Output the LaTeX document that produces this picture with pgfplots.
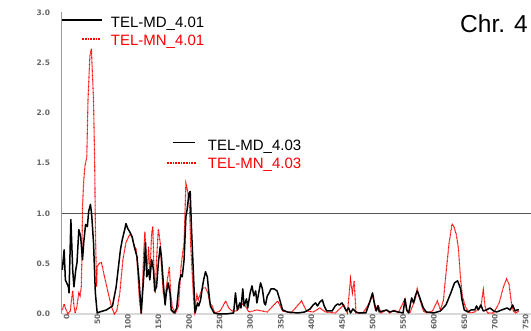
\documentclass[border=0pt]{standalone}
\usepackage{pgfplots}
\pgfplotsset{compat=1.18}
\usepackage{fontspec}
\setmainfont{Liberation Sans}
\newfontfamily\tickfont{DejaVu Sans}
\definecolor{axgray}{HTML}{999999}
\definecolor{ticktxt}{HTML}{666666}
\definecolor{refline}{HTML}{555555}
\definecolor{myred}{HTML}{FF0000}
\begin{document}
\begin{tikzpicture}
\begin{axis}[
  at={(0,0)}, anchor=south west,
  scale only axis, width=469.3pt, height=301.5pt,
  xmin=0, xmax=767, ymin=0, ymax=3.0,
  axis x line*=bottom, axis y line*=left,
  x axis line style={draw=black!15, line width=1.8pt},
  y axis line style={draw=axgray, line width=0.8pt},
  xtick={0,50,...,750}, ytick={0,0.5,...,3.0},
  major tick length=0pt,
  /pgf/number format/assume math mode=true,
  /pgf/number format/fixed, /pgf/number format/fixed zerofill,
  /pgf/number format/precision=1,
  yticklabel style={font=\tickfont\bfseries\fontsize{7.5}{8}\selectfont, text=ticktxt, inner sep=0pt, xshift=-11.5pt},
  xticklabel style={font=\tickfont\bfseries\fontsize{7.5}{8}\selectfont, text=ticktxt, inner sep=0pt, rotate=90, anchor=east, yshift=-5pt},
  xticklabel={\pgfmathprintnumber[fixed,precision=0]{\tick}},
  clip=false,
]
\addplot[refline, line width=1.5pt, forget plot] coordinates {(0,1.0) (767,1.0)};
\addplot[myred, line width=1.1pt, dash pattern=on 0.8pt off 0.5pt] coordinates {
(1,0.04)(4,0.10)(6,0.06)(10,0.00)(14,0.03)(16,0.14)(18,0.23)(20,0.08)(22,0.01)(25,0.08)(28,0.21)(30,0.18)(32,0.27)(33,0.54)(34,1.07)(36,1.33)(38,1.47)(41,1.56)(43,2.13)(46,2.56)(48.5,2.64)(52,2.13)(54,1.47)(55,0.87)(57,0.27)(58,0.47)(62,0.51)(65,0.51)(70,0.37)(76,0.21)(81,0.08)(86,0.00)(90,0.03)(95,0.21)(100,0.54)(105,0.71)(111,0.79)(115,0.77)(119,0.67)(122,0.64)(124,0.44)(127,0.14)(130,0.00)(132,0.27)(134,0.61)(136,0.82)(138,0.54)(139,0.37)(142,0.67)(144,0.37)(147,0.80)(149,0.87)(151,0.37)(153,0.21)(155,0.54)(158,0.85)(161,0.71)(163,0.47)(166,0.21)(169,0.14)(171,0.27)(176,0.47)(178,0.21)(181,0.06)(186,0.01)(191,0.08)(195,0.47)(197,0.57)(200,0.71)(203,1.30)(205,1.25)(207,1.17)(209,1.04)(211,0.67)(215,0.21)(217,0.03)(221,0.19)(223,0.14)(227,0.21)(231,0.26)(235,0.26)(239,0.21)(242,0.11)(246,0.08)(250,0.01)(259,0.03)(268,0.13)(273,0.06)(278,0.03)(286,0.03)(297,0.11)(306,0.02)(319,0.04)(336,0.02)(353,0.13)(361,0.03)(375,0.01)(392,0.13)(400,0.03)(411,0.02)(422,0.06)(431,0.02)(447,0.01)(461,0.09)(467,0.01)(472,0.35)(475,0.21)(478,0.33)(481,0.01)(492,0.01)(500,0.08)(508,0.18)(513,0.03)(517,0.09)(522,0.01)(531,0.04)(536,0.01)(544,0.04)(550,0.01)(561,0.15)(564,0.03)(569,0.01)(578,0.15)(581,0.25)(585,0.15)(591,0.03)(597,0.01)(606,0.03)(614,0.13)(619,0.04)(624,0.14)(627,0.34)(633,0.70)(638,0.90)(641,0.87)(645,0.79)(648,0.67)(649,0.60)(652,0.34)(655,0.17)(660,0.07)(666,0.01)(675,0.02)(685,0.07)(689,0.24)(692,0.07)(696,0.01)(706,0.01)(715,0.11)(722,0.27)(727,0.35)(731,0.30)(735,0.11)(738,0.03)(742,0.01)(747,0.03)
};
\addplot[black, line width=1.5pt, line join=round] coordinates {
(1,0.44)(4,0.64)(6,0.34)(11,0.27)(12,0.21)(15,0.94)(18,0.44)(20,0.27)(23,0.44)(25,0.51)(28,0.84)(31,0.77)(34,0.54)(36,0.71)(39,0.89)(42,0.87)(44,1.02)(47,1.09)(49,0.99)(52,0.71)(55,0.21)(58,0.01)(62,0.02)(73,0.04)(83,0.08)(89,0.27)(96,0.64)(99,0.74)(103,0.84)(105,0.90)(108,0.85)(111,0.82)(115,0.77)(119,0.66)(123,0.57)(126,0.37)(130,0.01)(134,0.37)(137,0.71)(139,0.37)(142,0.44)(144,0.34)(147,0.54)(150,0.44)(152,0.23)(155,0.27)(158,0.51)(161,0.67)(163,0.57)(166,0.31)(169,0.09)(171,0.21)(174,0.31)(177,0.21)(179,0.04)(184,0.01)(188,0.06)(192,0.31)(195,0.39)(197,0.37)(200,0.54)(203,0.97)(205,1.04)(208,1.20)(210,1.22)(212,0.87)(215,0.44)(218,0.01)(222,0.11)(224,0.08)(227,0.14)(230,0.27)(232,0.34)(235,0.42)(238,0.37)(241,0.18)(243,0.08)(249,0.01)(257,0.00)(268,0.00)(281,0.01)(284,0.21)(287,0.04)(291,0.11)(293,0.06)(296,0.25)(298,0.08)(302,0.15)(304,0.06)(308,0.21)(311,0.28)(314,0.18)(317,0.23)(319,0.11)(322,0.21)(325,0.31)(328,0.25)(331,0.11)(333,0.09)(336,0.18)(339,0.21)(342,0.25)(347,0.25)(352,0.23)(356,0.15)(361,0.04)(369,0.02)(386,0.01)(397,0.02)(406,0.05)(411,0.09)(415,0.11)(418,0.08)(422,0.12)(426,0.14)(429,0.08)(433,0.03)(442,0.03)(447,0.08)(451,0.10)(454,0.09)(458,0.11)(461,0.08)(465,0.03)(469,0.06)(472,0.01)(476,0.05)(481,0.02)(486,0.01)(497,0.01)(503,0.11)(508,0.21)(511,0.11)(514,0.03)(517,0.08)(519,0.02)(531,0.04)(536,0.02)(542,0.03)(550,0.02)(558,0.01)(561,0.15)(564,0.04)(567,0.01)(572,0.16)(575,0.11)(578,0.18)(581,0.23)(583,0.20)(586,0.15)(591,0.06)(596,0.02)(608,0.01)(619,0.03)(628,0.09)(636,0.21)(642,0.31)(647,0.33)(652,0.25)(654,0.15)(658,0.04)(664,0.02)(669,0.04)(675,0.04)(678,0.08)(681,0.04)(685,0.09)(689,0.03)(694,0.04)(700,0.06)(706,0.03)(711,0.02)(719,0.04)(728,0.06)(733,0.04)(737,0.09)(741,0.03)(744,0.04)(747,0.04)
};
\end{axis}
% legends and title
\draw[black, line width=1.3pt] (0.3pt,294pt) -- (40pt,294pt);
\node[anchor=base west, inner sep=0pt, font=\fontsize{15}{17}\selectfont] at (49pt,286.7pt) {TEL-MD\_4.01};
\draw[myred, line width=1.2pt, dash pattern=on 1pt off 0.6pt] (20pt,275pt) -- (39pt,275pt);
\node[anchor=base west, inner sep=0pt, text=myred, font=\fontsize{15}{17}\selectfont] at (49pt,268pt) {TEL-MN\_4.01};
\draw[black, line width=1.3pt] (111pt,171.3pt) -- (133pt,171.3pt);
\node[anchor=base west, inner sep=0pt, font=\fontsize{15}{17}\selectfont] at (146pt,163.3pt) {TEL-MD\_4.03};
\draw[myred, line width=1.2pt, dash pattern=on 1pt off 0.6pt] (105pt,151pt) -- (135pt,151pt);
\node[anchor=base west, inner sep=0pt, text=myred, font=\fontsize{15}{17}\selectfont] at (146pt,145pt) {TEL-MN\_4.03};
\node[anchor=base west, inner sep=0pt, font=\fontsize{24.5}{27}\selectfont] at (398.3pt,281.3pt) {Chr. 4};
\pgfresetboundingbox
\path[use as bounding box] (-61.7pt,-17pt) rectangle (469.3pt,314pt);
\end{tikzpicture}
\end{document}
